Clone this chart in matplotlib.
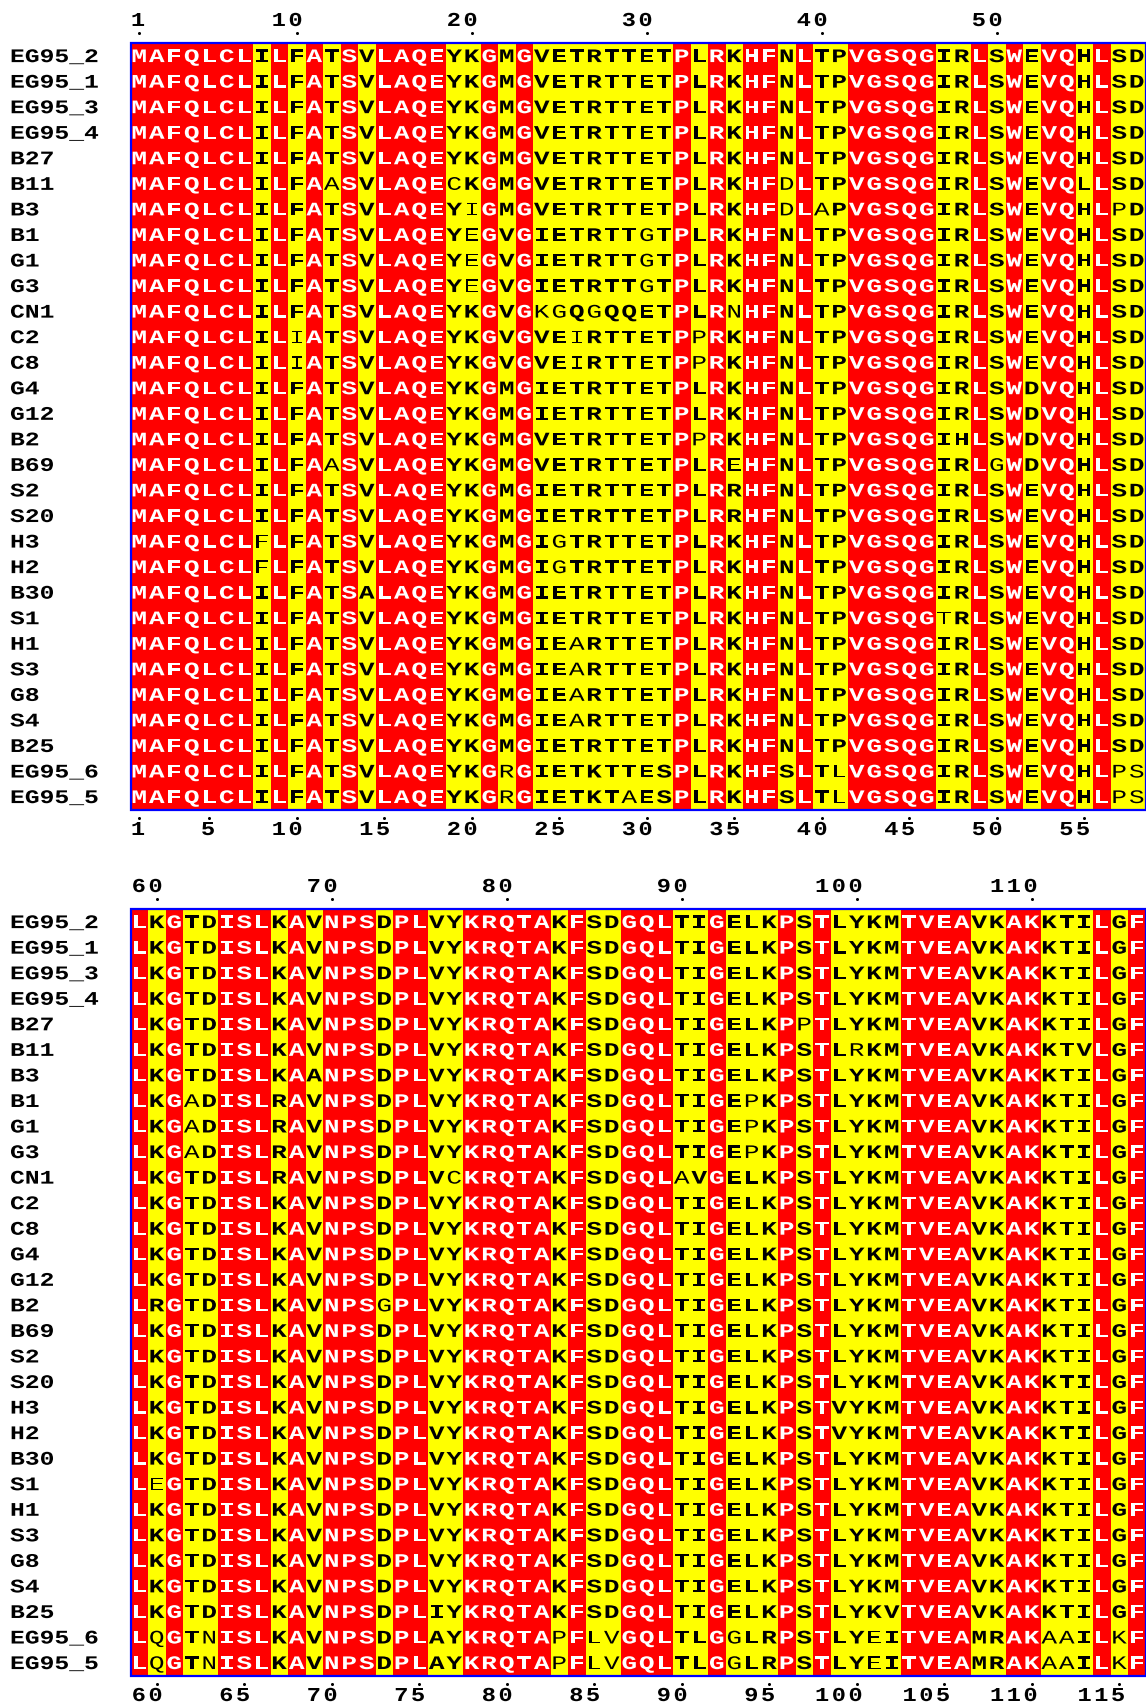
import numpy as np
import matplotlib
matplotlib.use('Agg')
import matplotlib.pyplot as plt
from matplotlib import patheffects
from matplotlib.transforms import Affine2D
from matplotlib.textpath import TextPath
from matplotlib.font_manager import FontProperties
from matplotlib.patches import Rectangle

# sequence names, same order in both blocks
names = ['EG95_2', 'EG95_1', 'EG95_3', 'EG95_4', 'B27', 'B11', 'B3', 'B1', 'G1', 'G3',
         'CN1', 'C2', 'C8', 'G4', 'G12', 'B2', 'B69', 'S2', 'S20', 'H3',
         'H2', 'B30', 'S1', 'H1', 'S3', 'G8', 'S4', 'B25', 'EG95_6', 'EG95_5']

# residues 1-58, lower case = residue drawn in normal (not bold) weight
block1 = [
    'MAFQLCLILFATSVLAQEYKGMGVETRTTETPLRKHFNLTPVGSQGIRLSWEVQHLSD',
    'MAFQLCLILFATSVLAQEYKGMGVETRTTETPLRKHFNLTPVGSQGIRLSWEVQHLSD',
    'MAFQLCLILFATSVLAQEYKGMGVETRTTETPLRKHFNLTPVGSQGIRLSWEVQHLSD',
    'MAFQLCLILFATSVLAQEYKGMGVETRTTETPLRKHFNLTPVGSQGIRLSWEVQHLSD',
    'MAFQLCLILFATSVLAQEYKGMGVETRTTETPLRKHFNLTPVGSQGIRLSWEVQHLSD',
    'MAFQLCLILFAaSVLAQEcKGMGVETRTTETPLRKHFdLTPVGSQGIRLSWEVQlLSD',
    'MAFQLCLILFATSVLAQEYiGMGVETRTTETPLRKHFdLaPVGSQGIRLSWEVQHLpD',
    'MAFQLCLILFATSVLAQEYeGVGIETRTTgTPLRKHFNLTPVGSQGIRLSWEVQHLSD',
    'MAFQLCLILFATSVLAQEYeGVGIETRTTgTPLRKHFNLTPVGSQGIRLSWEVQHLSD',
    'MAFQLCLILFATSVLAQEYeGVGIETRTTgTPLRKHFNLTPVGSQGIRLSWEVQHLSD',
    'MAFQLCLILFATSVLAQEYKGVGkgQgQQETPLRnHFNLTPVGSQGIRLSWEVQHLSD',
    'MAFQLCLILiATSVLAQEYKGVGVEiRTTETPpRKHFNLTPVGSQGIRLSWEVQHLSD',
    'MAFQLCLILiATSVLAQEYKGVGVEiRTTETPpRKHFNLTPVGSQGIRLSWEVQHLSD',
    'MAFQLCLILFATSVLAQEYKGMGIETRTTETPLRKHFNLTPVGSQGIRLSWDVQHLSD',
    'MAFQLCLILFATSVLAQEYKGMGIETRTTETPLRKHFNLTPVGSQGIRLSWDVQHLSD',
    'MAFQLCLILFATSVLAQEYKGMGVETRTTETPpRKHFNLTPVGSQGIHLSWDVQHLSD',
    'MAFQLCLILFAaSVLAQEYKGMGVETRTTETPLReHFNLTPVGSQGIRLgWDVQHLSD',
    'MAFQLCLILFATSVLAQEYKGMGIETRTTETPLRRHFNLTPVGSQGIRLSWEVQHLSD',
    'MAFQLCLILFATSVLAQEYKGMGIETRTTETPLRRHFNLTPVGSQGIRLSWEVQHLSD',
    'MAFQLCLfLFATSVLAQEYKGMGIgTRTTETPLRKHFNLTPVGSQGIRLSWEVQHLSD',
    'MAFQLCLfLFATSVLAQEYKGMGIgTRTTETPLRKHFNLTPVGSQGIRLSWEVQHLSD',
    'MAFQLCLILFATSALAQEYKGMGIETRTTETPLRKHFNLTPVGSQGIRLSWEVQHLSD',
    'MAFQLCLILFATSVLAQEYKGMGIETRTTETPLRKHFNLTPVGSQGtRLSWEVQHLSD',
    'MAFQLCLILFATSVLAQEYKGMGIEaRTTETPLRKHFNLTPVGSQGIRLSWEVQHLSD',
    'MAFQLCLILFATSVLAQEYKGMGIEaRTTETPLRKHFNLTPVGSQGIRLSWEVQHLSD',
    'MAFQLCLILFATSVLAQEYKGMGIEaRTTETPLRKHFNLTPVGSQGIRLSWEVQHLSD',
    'MAFQLCLILFATSVLAQEYKGMGIEaRTTETPLRKHFNLTPVGSQGIRLSWEVQHLSD',
    'MAFQLCLILFATSVLAQEYKGMGIETRTTETPLRKHFNLTPVGSQGIRLSWEVQHLSD',
    'MAFQLCLILFATSVLAQEYKGrGIETKTTESPLRKHFSLTlVGSQGIRLSWEVQHLps',
    'MAFQLCLILFATSVLAQEYKGrGIETKTaESPLRKHFSLTlVGSQGIRLSWEVQHLps',
]

# residues 59-116
block2 = [
    'LKGTDISLKAVNPSDPLVYKRQTAKFSDGQLTIGELKPSTLYKMTVEAVKAKKTILGF',
    'LKGTDISLKAVNPSDPLVYKRQTAKFSDGQLTIGELKPSTLYKMTVEAVKAKKTILGF',
    'LKGTDISLKAVNPSDPLVYKRQTAKFSDGQLTIGELKPSTLYKMTVEAVKAKKTILGF',
    'LKGTDISLKAVNPSDPLVYKRQTAKFSDGQLTIGELKPSTLYKMTVEAVKAKKTILGF',
    'LKGTDISLKAVNPSDPLVYKRQTAKFSDGQLTIGELKPpTLYKMTVEAVKAKKTILGF',
    'LKGTDISLKAVNPSDPLVYKRQTAKFSDGQLTIGELKPSTLrKMTVEAVKAKKTVLGF',
    'LKGTDISLKAANPSDPLVYKRQTAKFSDGQLTIGELKPSTLYKMTVEAVKAKKTILGF',
    'LKGaDISLRAVNPSDPLVYKRQTAKFSDGQLTIGEpKPSTLYKMTVEAVKAKKTILGF',
    'LKGaDISLRAVNPSDPLVYKRQTAKFSDGQLTIGEpKPSTLYKMTVEAVKAKKTILGF',
    'LKGaDISLRAVNPSDPLVYKRQTAKFSDGQLTIGEpKPSTLYKMTVEAVKAKKTILGF',
    'LKGTDISLRAVNPSDPLVcKRQTAKFSDGQLaVGELKPSTLYKMTVEAVKAKKTILGF',
    'LKGTDISLKAVNPSDPLVYKRQTAKFSDGQLTIGELKPSTLYKMTVEAVKAKKTILGF',
    'LKGTDISLKAVNPSDPLVYKRQTAKFSDGQLTIGELKPSTLYKMTVEAVKAKKTILGF',
    'LKGTDISLKAVNPSDPLVYKRQTAKFSDGQLTIGELKPSTLYKMTVEAVKAKKTILGF',
    'LKGTDISLKAVNPSDPLVYKRQTAKFSDGQLTIGELKPSTLYKMTVEAVKAKKTILGF',
    'LRGTDISLKAVNPSgPLVYKRQTAKFSDGQLTIGELKPSTLYKMTVEAVKAKKTILGF',
    'LKGTDISLKAVNPSDPLVYKRQTAKFSDGQLTIGELKPSTLYKMTVEAVKAKKTILGF',
    'LKGTDISLKAVNPSDPLVYKRQTAKFSDGQLTIGELKPSTLYKMTVEAVKAKKTILGF',
    'LKGTDISLKAVNPSDPLVYKRQTAKFSDGQLTIGELKPSTLYKMTVEAVKAKKTILGF',
    'LKGTDISLKAVNPSDPLVYKRQTAKFSDGQLTIGELKPSTVYKMTVEAVKAKKTILGF',
    'LKGTDISLKAVNPSDPLVYKRQTAKFSDGQLTIGELKPSTVYKMTVEAVKAKKTILGF',
    'LKGTDISLKAVNPSDPLVYKRQTAKFSDGQLTIGELKPSTLYKMTVEAVKAKKTILGF',
    'LeGTDISLKAVNPSDPLVYKRQTAKFSDGQLTIGELKPSTLYKMTVEAVKAKKTILGF',
    'LKGTDISLKAVNPSDPLVYKRQTAKFSDGQLTIGELKPSTLYKMTVEAVKAKKTILGF',
    'LKGTDISLKAVNPSDPLVYKRQTAKFSDGQLTIGELKPSTLYKMTVEAVKAKKTILGF',
    'LKGTDISLKAVNPSDPLVYKRQTAKFSDGQLTIGELKPSTLYKMTVEAVKAKKTILGF',
    'LKGTDISLKAVNPSDPLVYKRQTAKFSDGQLTIGELKPSTLYKMTVEAVKAKKTILGF',
    'LKGTDISLKAVNPSDPLIYKRQTAKFSDGQLTIGELKPSTLYKVTVEAVKAKKTILGF',
    'LqGTnISLKAVNPSDPLAYKRQTApFlvGQLTLGgLRPSTLYeITVEAMRAKaaILkF',
    'LqGTnISLKAVNPSDPLAYKRQTApFlvGQLTLGgLRPSTLYeITVEAMRAKaaILkF',
]

block_first = [1, 59]
top_numbers = [[1, 10, 20, 30, 40, 50], [60, 70, 80, 90, 100, 110]]
bottom_numbers = [[1, 5, 10, 15, 20, 25, 30, 35, 40, 45, 50, 55],
                  [60, 65, 70, 75, 80, 85, 90, 95, 100, 105, 110, 115]]


# the original uses a wide courier face, so the glyphs get stretched sideways
class Widen(patheffects.AbstractPathEffect):
    def __init__(self, sx, anchor='center'):
        super().__init__()
        self.sx = sx
        self.anchor = anchor

    def draw_path(self, renderer, gc, tpath, affine, rgbFace=None):
        ext = tpath.get_extents()
        x_fix = 0 if self.anchor == 'left' else (ext.x0 + ext.x1) / 2
        stretch = Affine2D().translate(-x_fix, 0).scale(self.sx, 1).translate(x_fix, 0)
        renderer.draw_path(gc, tpath, stretch + affine, rgbFace)


FONT = 'Liberation Mono'


def size_for_cap(cap_px):
    # font size in points (dpi 100) that gives the wanted capital height in pixels
    ratio = TextPath((0, 0), 'H', size=1, prop=FontProperties(family=FONT, weight='bold')).get_extents().y1
    return cap_px / ratio * 0.72


W, H = 1146, 1703
fig = plt.figure(figsize=(W / 100, H / 100), dpi=100)
ax = fig.add_axes([0, 0, 1, 1])

# layout in pixels
x0 = 130.5
cw = 17.5
rh = 25.55
block_tops = [43, 909]

res_cap = 12.6
res_size = size_for_cap(res_cap)
name_cap = 12.7
name_size = size_for_cap(name_cap)
num_cap = 13.0
num_size = size_for_cap(num_cap)
wide = [Widen(1.36)]
wide_left = [Widen(1.28, 'left')]
wide_num = [Widen(1.2)]

red = np.array([1.0, 0.0, 0.0])
yellow = np.array([1.0, 1.0, 0.0])

for rows, top, first, tnums, bnums in zip([block1, block2], block_tops, block_first, top_numbers, bottom_numbers):
    nrow = len(rows)
    ncol = len(rows[0])
    bottom = top + nrow * rh
    upper = [r.upper() for r in rows]
    # a column is red when every sequence has the same residue
    ident = np.array([len(set(col)) == 1 for col in zip(*upper)])
    rgb = np.where(ident[None, :, None], red, yellow) * np.ones((nrow, 1, 1))
    ax.imshow(rgb, extent=(x0, x0 + ncol * cw, bottom, top), interpolation='nearest', aspect='auto')
    ax.add_patch(Rectangle((x0, top), ncol * cw, nrow * rh, fill=False, ec='#0000ff', lw=1.6))

    for i, seq in enumerate(rows):
        yc = top + (i + 0.5) * rh
        ax.text(10, yc + name_cap / 2, names[i], ha='left', va='baseline', family=FONT, weight='bold',
                fontsize=name_size, color='black', path_effects=wide_left)
        for j, ch in enumerate(seq):
            xc = x0 + (j + 0.5) * cw
            if ident[j]:
                color, weight = 'white', 'bold'
            elif ch.isupper():
                color, weight = 'black', 'bold'
            else:
                color, weight = 'black', 'normal'
            ax.text(xc, yc + res_cap / 2, ch.upper(), ha='center', va='baseline', family=FONT,
                    weight=weight, fontsize=res_size, color=color, path_effects=wide)

    # numbering above and below, digits spread out like in the original
    for nums, y_dot, y_num in [(tnums, top - 10, top - 23.5), (bnums, bottom + 8, bottom + 19)]:
        for n in nums:
            xc = x0 + (n - first + 0.5) * cw
            ax.plot(xc, y_dot, 'o', color='black', ms=2.2, mew=0)
            for k, d in enumerate(reversed(str(n))):
                ax.text(xc - 1.2 - k * 16.7, y_num + num_cap / 2, d, ha='center', va='baseline',
                        family=FONT, weight='bold', fontsize=num_size, color='black',
                        path_effects=wide_num)

ax.set_xlim(0, W)
ax.set_ylim(H, 0)
ax.axis('off')
fig.savefig('out.png', dpi=100)
